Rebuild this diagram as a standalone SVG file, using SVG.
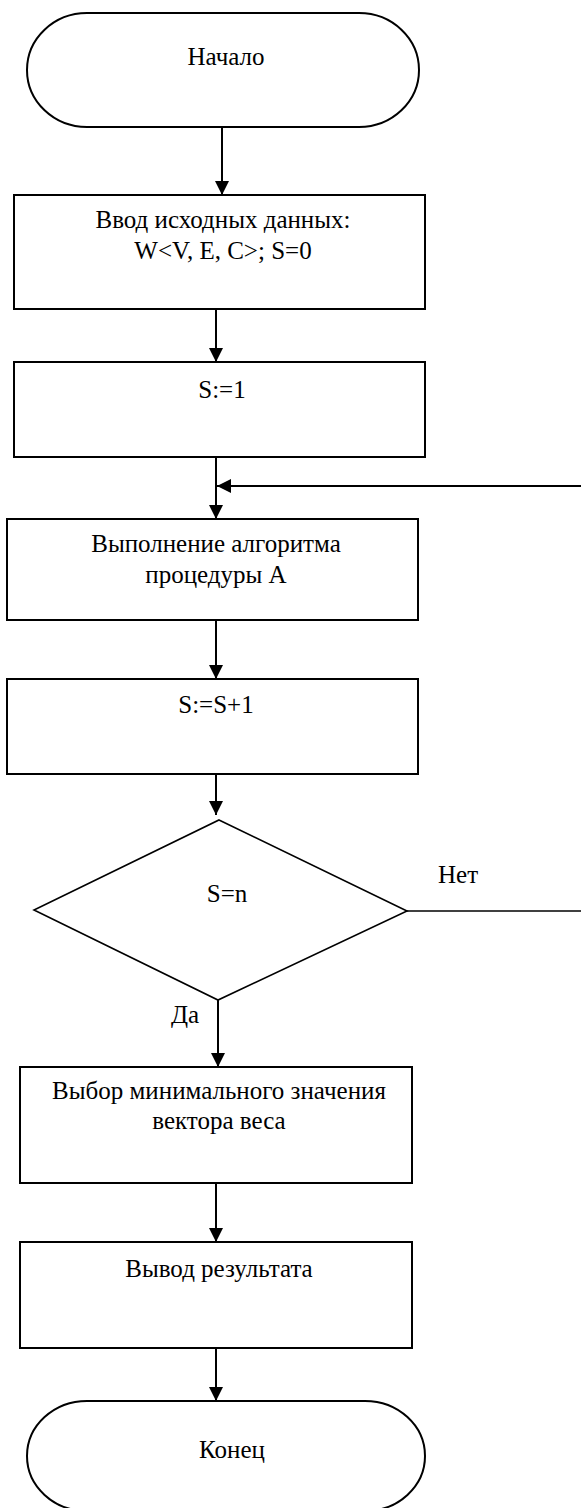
<svg xmlns="http://www.w3.org/2000/svg" width="581" height="1508" viewBox="0 0 581 1508">
  <defs>
    <marker id="arr" markerWidth="14" markerHeight="14" refX="14" refY="7" orient="auto" markerUnits="userSpaceOnUse">
      <path d="M0,0 L14,7 L0,14 z" fill="#000"/>
    </marker>
    <style>
      .box { fill: #fff; stroke: #000; stroke-width: 2; }
      .dia { fill: #fff; stroke: #000; stroke-width: 1.6; }
      .c { stroke: #000; stroke-width: 2; fill: none; }
      .ca { stroke: #000; stroke-width: 2; fill: none; marker-end: url(#arr); }
    </style>
  </defs>
  <rect width="581" height="1508" fill="#fff"/>

  <g font-family="'Liberation Serif', 'Times New Roman', 'DejaVu Serif', serif" font-size="25" fill="#000">
  <g id="connectors">
    <line class="ca" x1="222" y1="127" x2="222" y2="195"/>
    <line class="ca" x1="216" y1="309" x2="216" y2="362"/>
    <line class="ca" x1="216" y1="457" x2="216" y2="519"/>
    <line class="ca" x1="581" y1="486" x2="217" y2="486"/>
    <line class="ca" x1="216" y1="620" x2="216" y2="679"/>
    <line class="ca" x1="216" y1="774" x2="216" y2="815"/>
    <line class="c" x1="407" y1="911" x2="581" y2="911" style="stroke-width:1.5"/>
    <line class="ca" x1="218" y1="1000" x2="218" y2="1067"/>
    <line class="ca" x1="216" y1="1183" x2="216" y2="1242"/>
    <line class="ca" x1="216" y1="1348" x2="216" y2="1401"/>
    <text x="438" y="883">Нет</text>
    <text x="171" y="1023">Да</text>
  </g>

  <g text-anchor="middle">
  <g id="start">
    <rect class="box" x="27" y="13" width="392" height="114" rx="60" ry="57"/>
    <text x="226" y="65">Начало</text>
  </g>

  <g id="input">
    <rect class="box" x="14" y="195" width="411" height="114"/>
    <text x="223" y="228">Ввод исходных данных:</text>
    <text x="223" y="259">W&lt;V, E, C&gt;; S=0</text>
  </g>

  <g id="s1">
    <rect class="box" x="14" y="362" width="411" height="95"/>
    <text x="222" y="398">S:=1</text>
  </g>

  <g id="procA">
    <rect class="box" x="7" y="519" width="411" height="101"/>
    <text x="216" y="552">Выполнение алгоритма</text>
    <text x="216" y="583">процедуры А</text>
  </g>

  <g id="inc">
    <rect class="box" x="7" y="679" width="411" height="95"/>
    <text x="216" y="713">S:=S+1</text>
  </g>

  <g id="decision">
    <polygon class="dia" points="219,820 407,911 218,1000 34,910"/>
    <text x="227" y="902">S=n</text>
  </g>

  <g id="select">
    <rect class="box" x="20" y="1067" width="392" height="116"/>
    <text x="219" y="1099">Выбор минимального значения</text>
    <text x="219" y="1129">вектора веса</text>
  </g>

  <g id="output">
    <rect class="box" x="20" y="1242" width="392" height="106"/>
    <text x="219" y="1277">Вывод результата</text>
  </g>

  <g id="end">
    <rect class="box" x="27" y="1401" width="398" height="110" rx="60" ry="55"/>
    <text x="232" y="1458">Конец</text>
  </g>
  </g>
  </g>
</svg>
